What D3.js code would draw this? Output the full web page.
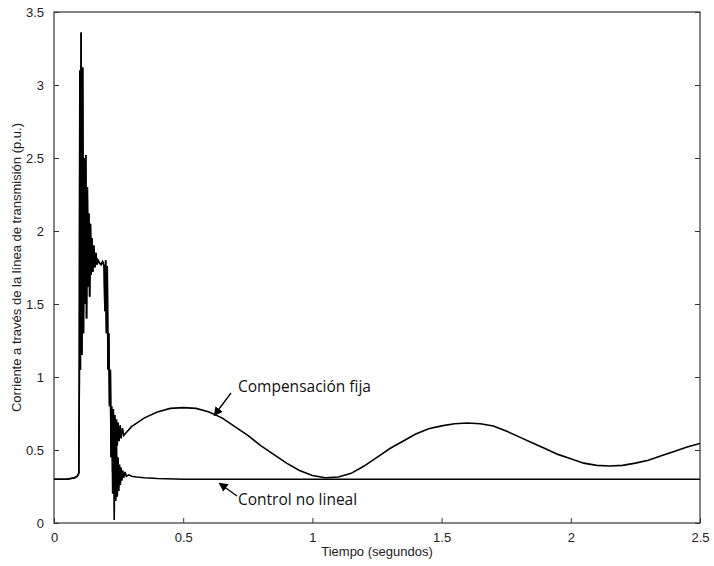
<!DOCTYPE html>
<html>
<head>
<meta charset="utf-8">
<script src="https://cdn.jsdelivr.net/npm/d3@7"></script>
<style>
  html, body { margin: 0; padding: 0; background: #fff; }
  svg { display: block; }
</style>
</head>
<body>
<svg id="chart" width="714" height="566"></svg>
<script>
// Shared transient (both simulations overlap until ~0.22 s)
const transientT = [0, 0.05, 0.08, 0.090, 0.096, 0.098, 0.100, 0.102, 0.105, 0.108, 0.111, 0.114, 0.117, 0.120, 0.123, 0.126, 0.129, 0.132, 0.135, 0.138, 0.141, 0.144, 0.147, 0.150, 0.154, 0.158, 0.162, 0.166, 0.170, 0.176, 0.182, 0.188, 0.194, 0.197, 0.200, 0.203, 0.206, 0.209, 0.212, 0.215, 0.218, 0.221];
const transientV = [0.30, 0.30, 0.31, 0.32, 0.34, 0.98, 3.10, 1.05, 3.36, 1.15, 3.12, 1.30, 2.50, 1.50, 2.52, 1.40, 2.30, 1.62, 2.12, 1.55, 2.05, 1.70, 1.95, 1.72, 1.90, 1.75, 1.85, 1.77, 1.80, 1.78, 1.77, 1.79, 1.76, 1.45, 1.80, 1.30, 1.76, 1.05, 1.30, 0.80, 1.05, 0.45];

// "Compensación fija" after the transient
const fijaT = [0.224, 0.227, 0.230, 0.233, 0.236, 0.239, 0.242, 0.245, 0.248, 0.252, 0.256, 0.26, 0.265, 0.27, 0.28, 0.30, 0.35, 0.40, 0.45, 0.50, 0.55, 0.60, 0.65, 0.70, 0.75, 0.80, 0.85, 0.90, 0.95, 1.00, 1.05, 1.10, 1.15, 1.20, 1.25, 1.30, 1.35, 1.40, 1.45, 1.50, 1.55, 1.60, 1.65, 1.70, 1.75, 1.80, 1.85, 1.90, 1.95, 2.00, 2.05, 2.10, 2.15, 2.20, 2.25, 2.30, 2.35, 2.40, 2.45, 2.50];
const fijaV = [0.80, 0.35, 0.78, 0.40, 0.74, 0.48, 0.71, 0.53, 0.69, 0.56, 0.67, 0.58, 0.65, 0.60, 0.62, 0.66, 0.72, 0.76, 0.785, 0.79, 0.785, 0.76, 0.72, 0.66, 0.60, 0.53, 0.47, 0.41, 0.36, 0.325, 0.31, 0.315, 0.34, 0.39, 0.45, 0.51, 0.56, 0.61, 0.645, 0.665, 0.68, 0.685, 0.68, 0.665, 0.63, 0.59, 0.55, 0.51, 0.47, 0.44, 0.41, 0.395, 0.39, 0.395, 0.41, 0.43, 0.46, 0.49, 0.52, 0.545];

// "Control no lineal" after the transient
const nolinT = [0.224, 0.227, 0.230, 0.233, 0.236, 0.239, 0.242, 0.245, 0.248, 0.251, 0.254, 0.257, 0.260, 0.263, 0.266, 0.27, 0.275, 0.28, 0.29, 0.30, 0.32, 0.35, 0.40, 0.50, 1.0, 1.5, 2.0, 2.5];
const nolinV = [0.75, 0.20, 0.70, 0.02, 0.62, 0.15, 0.55, 0.18, 0.45, 0.22, 0.40, 0.26, 0.38, 0.29, 0.36, 0.31, 0.35, 0.32, 0.33, 0.32, 0.315, 0.31, 0.305, 0.30, 0.30, 0.30, 0.30, 0.30];

const xTicks = [0, 0.5, 1, 1.5, 2, 2.5];
const yTicks = [0, 0.5, 1, 1.5, 2, 2.5, 3, 3.5];
const xTickLabels = ["0", "0.5", "1", "1.5", "2", "2.5"];
const yTickLabels = ["0", "0.5", "1", "1.5", "2", "2.5", "3", "3.5"];

const svg = d3.select("#chart");
const m = { left: 54, right: 700, top: 12, bottom: 523 };
const x = d3.scaleLinear().domain([0, 2.5]).range([m.left, m.right]);
const y = d3.scaleLinear().domain([0, 3.5]).range([m.bottom, m.top]);

const font = "'Liberation Sans', Arial, sans-serif";
const axisColor = "#333";

// Frame
svg.append("rect").attr("x", m.left).attr("y", m.top)
  .attr("width", m.right - m.left).attr("height", m.bottom - m.top)
  .attr("fill", "none").attr("stroke", axisColor).attr("stroke-width", 1.2);

// Bottom axis (inward ticks)
const gx = svg.append("g").attr("transform", `translate(0,${m.bottom})`)
  .call(d3.axisBottom(x).tickValues(xTicks).tickFormat((d, i) => xTickLabels[i]).tickSizeInner(-5).tickSizeOuter(0).tickPadding(10));
gx.select(".domain").remove();
gx.selectAll("line").attr("stroke", axisColor);
gx.selectAll("text").attr("font-family", font).attr("font-size", 13).attr("fill", "#222");

// Left axis (inward ticks)
const gy = svg.append("g").attr("transform", `translate(${m.left},0)`)
  .call(d3.axisLeft(y).tickValues(yTicks).tickFormat((d, i) => yTickLabels[i]).tickSizeInner(-5).tickSizeOuter(0).tickPadding(10));
gy.select(".domain").remove();
gy.selectAll("line").attr("stroke", axisColor);
gy.selectAll("text").attr("font-family", font).attr("font-size", 13).attr("fill", "#222");

// Right axis ticks (inward, no labels)
const gr = svg.append("g").attr("transform", `translate(${m.right},0)`)
  .call(d3.axisRight(y).tickValues(yTicks).tickFormat("").tickSizeInner(-5).tickSizeOuter(0));
gr.select(".domain").remove();
gr.selectAll("line").attr("stroke", axisColor);

// Axis titles
svg.append("text").attr("x", (m.left + m.right) / 2).attr("y", 556)
  .attr("text-anchor", "middle").attr("font-family", font).attr("font-size", 13).attr("fill", "#222")
  .text("Tiempo (segundos)");
svg.append("text").attr("transform", `translate(21,${(m.top + m.bottom) / 2}) rotate(-90)`)
  .attr("text-anchor", "middle").attr("font-family", font).attr("font-size", 13).attr("fill", "#222")
  .text("Corriente a través de la línea de transmisión (p.u.)");

// Series
const line = d3.line().x(d => x(d[0])).y(d => y(d[1]));
const trans = transientT.map((t, i) => [t, transientV[i]]);
const fija = trans.concat(fijaT.map((t, i) => [t, fijaV[i]]));
const nolin = trans.concat(nolinT.map((t, i) => [t, nolinV[i]]));

svg.append("clipPath").attr("id", "clip").append("rect")
  .attr("x", m.left).attr("y", m.top).attr("width", m.right - m.left).attr("height", m.bottom - m.top);

svg.append("path").datum(nolin).attr("d", line).attr("fill", "none")
  .attr("stroke", "#000").attr("stroke-width", 1.6).attr("clip-path", "url(#clip)");
svg.append("path").datum(fija).attr("d", line).attr("fill", "none")
  .attr("stroke", "#000").attr("stroke-width", 1.6).attr("clip-path", "url(#clip)");

// Annotations with arrows
const defs = svg.append("defs");
defs.append("marker").attr("id", "arrow").attr("viewBox", "0 0 10 10").attr("refX", 9).attr("refY", 5)
  .attr("markerWidth", 7).attr("markerHeight", 7).attr("orient", "auto-start-reverse")
  .append("path").attr("d", "M0,0 L10,5 L0,10 z").attr("fill", "#000");

const annFont = "'Open Sans', 'Noto Sans', sans-serif";
svg.append("text").attr("x", 238).attr("y", 392).attr("font-family", annFont).attr("font-size", 15.5).attr("fill", "#111")
  .text("Compensación fija");
svg.append("line").attr("x1", 231).attr("y1", 393).attr("x2", x(0.62)).attr("y2", y(0.75) + 2)
  .attr("stroke", "#000").attr("stroke-width", 1.3).attr("marker-end", "url(#arrow)");

svg.append("text").attr("x", 238).attr("y", 505).attr("font-family", annFont).attr("font-size", 15.5).attr("fill", "#111")
  .text("Control no lineal");
svg.append("line").attr("x1", 237).attr("y1", 496).attr("x2", x(0.64)).attr("y2", y(0.3) + 4)
  .attr("stroke", "#000").attr("stroke-width", 1.3).attr("marker-end", "url(#arrow)");
</script>
</body>
</html>
